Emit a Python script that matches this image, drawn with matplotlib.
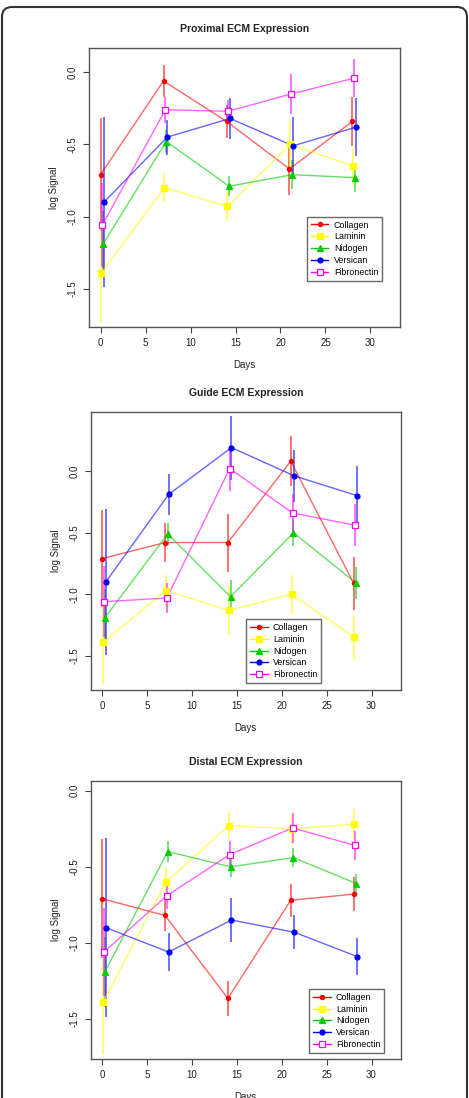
import matplotlib
matplotlib.use("Agg")
import matplotlib.pyplot as plt
from matplotlib.patches import FancyBboxPatch
from matplotlib.transforms import IdentityTransform
from matplotlib.lines import Line2D

plt.rcParams['font.family'] = ['Liberation Sans', 'DejaVu Sans']

days = [0, 7, 14, 21, 28]
genes = ["Collagen", "Laminin", "Nidogen", "Versican", "Fibronectin"]
titles = ["Proximal ECM Expression", "Guide ECM Expression", "Distal ECM Expression"]

# Proximal
prox_collagen = [-0.71, -0.06, -0.34, -0.67, -0.34]
prox_collagen_err = [0.39, 0.11, 0.115, 0.18, 0.17]
prox_laminin = [-1.39, -0.80, -0.93, -0.50, -0.65]
prox_laminin_err = [0.34, 0.10, 0.10, 0.16, 0.13]
prox_nidogen = [-1.19, -0.48, -0.79, -0.71, -0.73]
prox_nidogen_err = [0.23, 0.08, 0.07, 0.10, 0.10]
prox_versican = [-0.90, -0.45, -0.32, -0.51, -0.38]
prox_versican_err = [0.59, 0.12, 0.14, 0.20, 0.20]
prox_fibronectin = [-1.06, -0.26, -0.27, -0.15, -0.04]
prox_fibronectin_err = [0.29, 0.09, 0.08, 0.14, 0.13]

# Guide
guide_collagen = [-0.71, -0.58, -0.58, 0.08, -0.91]
guide_collagen_err = [0.39, 0.155, 0.235, 0.20, 0.215]
guide_laminin = [-1.39, -0.97, -1.13, -1.00, -1.35]
guide_laminin_err = [0.34, 0.13, 0.20, 0.16, 0.185]
guide_nidogen = [-1.19, -0.51, -1.02, -0.50, -0.91]
guide_nidogen_err = [0.23, 0.09, 0.135, 0.11, 0.13]
guide_versican = [-0.90, -0.19, 0.19, -0.04, -0.20]
guide_versican_err = [0.59, 0.165, 0.26, 0.21, 0.24]
guide_fibronectin = [-1.06, -1.03, 0.02, -0.34, -0.44]
guide_fibronectin_err = [0.29, 0.12, 0.18, 0.15, 0.17]

# Distal
dist_collagen = [-0.71, -0.82, -1.365, -0.72, -0.68]
dist_collagen_err = [0.39, 0.10, 0.115, 0.11, 0.113]
dist_laminin = [-1.39, -0.60, -0.23, -0.25, -0.22]
dist_laminin_err = [0.34, 0.10, 0.09, 0.10, 0.10]
dist_nidogen = [-1.19, -0.40, -0.50, -0.44, -0.61]
dist_nidogen_err = [0.23, 0.07, 0.065, 0.064, 0.063]
dist_versican = [-0.90, -1.06, -0.85, -0.93, -1.09]
dist_versican_err = [0.59, 0.124, 0.144, 0.113, 0.12]
dist_fibronectin = [-1.06, -0.69, -0.42, -0.245, -0.36]
dist_fibronectin_err = [0.29, 0.09, 0.09, 0.10, 0.095]

panels = [
    ([prox_collagen, prox_laminin, prox_nidogen, prox_versican, prox_fibronectin],
     [prox_collagen_err, prox_laminin_err, prox_nidogen_err, prox_versican_err, prox_fibronectin_err]),
    ([guide_collagen, guide_laminin, guide_nidogen, guide_versican, guide_fibronectin],
     [guide_collagen_err, guide_laminin_err, guide_nidogen_err, guide_versican_err, guide_fibronectin_err]),
    ([dist_collagen, dist_laminin, dist_nidogen, dist_versican, dist_fibronectin],
     [dist_collagen_err, dist_laminin_err, dist_nidogen_err, dist_versican_err, dist_fibronectin_err]),
]

colors = ["#ff0000", "#ffff00", "#00cd00", "#0000ff", "#ff00ff"]
markers = ["o", "s", "^", "o", "s"]
msizes = [3.0, 3.8, 4.3, 3.6, 4.0]
filled = [True, True, True, True, False]
offsets = [0.0, 0.1, 0.3, 0.4, 0.2]

W, H = 469, 1098
fig = plt.figure(figsize=(W / 100, H / 100), dpi=100)
fig.patch.set_facecolor("white")

# axes boxes in pixels: (left, top, right, bottom)
boxes = [(89, 48, 400, 327), (90.7, 411.7, 401, 690), (90.7, 781, 401, 1059.3)]
ylims = [(-1.766, 0.1685), (-1.776, 0.481), (-1.765, 0.0637)]
legend_pos = [(0.70, 0.165), (0.50, 0.024), (0.703, 0.022)]

for i, (vals, errs) in enumerate(panels):
    l, t, r, b = boxes[i]
    ax = fig.add_axes([l / W, 1 - b / H, (r - l) / W, (b - t) / H])
    handles = []
    for j in range(5):
        xs = [d + offsets[j] for d in days]
        ax.vlines(xs, [v - e for v, e in zip(vals[j], errs[j])],
                  [v + e for v, e in zip(vals[j], errs[j])],
                  colors=colors[j], alpha=0.6, lw=1.3, zorder=2)
        ax.plot(xs, vals[j], color=colors[j], alpha=0.6, lw=1.0, zorder=3)
        ax.plot(xs, vals[j], linestyle="none", marker=markers[j], ms=msizes[j],
                mfc=colors[j] if filled[j] else "white", mec=colors[j],
                mew=0.9, zorder=4)
        handles.append(Line2D([0], [0], color=colors[j], lw=1.0, marker=markers[j],
                              ms=msizes[j], mfc=colors[j] if filled[j] else "white",
                              mec=colors[j], mew=0.9))
    ax.set_xlim(-1.28, 33.28)
    ax.set_ylim(*ylims[i])
    ax.set_xticks([0, 5, 10, 15, 20, 25, 30])
    ax.set_yticks([-1.5, -1.0, -0.5, 0.0])
    ax.set_yticklabels(["-1.5", "-1.0", "-0.5", "0.0"])
    ax.tick_params(axis="both", labelsize=7, length=4, width=0.8, color="#444444",
                   pad=4, labelcolor="#222222")
    for lab in ax.get_yticklabels():
        lab.set_rotation(90)
        lab.set_va("center")
    for s in ax.spines.values():
        s.set_color("#555555")
        s.set_linewidth(1.0)
    ax.set_title(titles[i], fontsize=7.5, fontweight="bold", pad=11.5, color="#222222")
    ax.set_xlabel("Days", fontsize=7, labelpad=8.5, color="#222222")
    ax.set_ylabel("log Signal", fontsize=7, labelpad=6.5, color="#222222")
    leg = ax.legend(handles, genes, loc="lower left", bbox_to_anchor=legend_pos[i],
                    fontsize=6.4, frameon=True, fancybox=False, handlelength=2.0,
                    handletextpad=0.6, labelspacing=0.32, borderpad=0.45,
                    borderaxespad=0)
    leg.get_frame().set_edgecolor("#444444")
    leg.get_frame().set_linewidth(1.0)

frame = FancyBboxPatch((2, -20), 465, H - 7 + 20,
                       boxstyle="round,pad=0,rounding_size=10",
                       transform=IdentityTransform(), fill=False,
                       edgecolor="#333333", linewidth=1.5)
fig.add_artist(frame)

fig.savefig("out.png", dpi=100)
